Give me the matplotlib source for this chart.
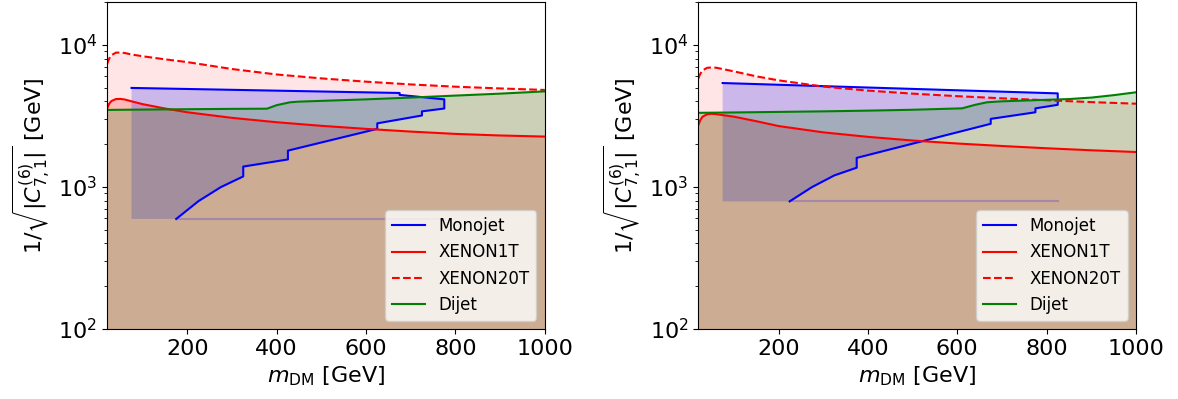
import numpy as np
import matplotlib
matplotlib.use("Agg")
import matplotlib.pyplot as plt

# dark matter mass grid for the direct detection curves [GeV]
m_dd = [20, 25, 30, 40, 50, 60, 75, 100, 150, 200, 300, 400, 500, 600, 700, 800, 900, 1000]

# left panel
xe1t_L = [3540, 3850, 4020, 4150, 4160, 4120, 4000, 3820, 3560, 3350, 3060, 2850, 2690, 2560, 2450, 2360, 2300, 2260]
xe20t_L = [7300, 8000, 8450, 8800, 8820, 8750, 8550, 8300, 7900, 7550, 6750, 6180, 5800, 5500, 5260, 5070, 4930, 4810]
dijet_m_L = [20, 100, 200, 300, 378, 400, 430, 450, 500, 600, 700, 800, 900, 1000]
dijet_L = [3480, 3500, 3520, 3540, 3550, 3760, 3940, 3980, 4030, 4130, 4250, 4390, 4530, 4700]
mono_up_m_L = [75, 675, 675, 775]
mono_up_L = [4970, 4580, 4440, 4130]
mono_lo_m_L = [775, 725, 725, 625, 625, 425, 425, 325, 325, 275, 225, 175]
mono_lo_L = [3560, 3400, 3180, 2800, 2560, 1800, 1560, 1390, 1185, 997, 795, 595]

# right panel
xe1t_R = [2700, 2950, 3120, 3240, 3270, 3250, 3200, 3120, 2900, 2680, 2420, 2250, 2120, 2020, 1940, 1870, 1810, 1760]
xe20t_R = [5750, 6250, 6600, 6880, 6930, 6900, 6750, 6500, 6000, 5620, 5080, 4760, 4530, 4350, 4200, 4070, 3950, 3850]
dijet_m_R = [20, 100, 200, 300, 400, 500, 611, 640, 667, 700, 750, 800, 850, 900, 950, 1000]
dijet_R = [3320, 3340, 3370, 3400, 3440, 3490, 3570, 3780, 3940, 4000, 4050, 4100, 4150, 4250, 4420, 4630]
mono_up_m_R = [75, 825]
mono_up_R = [5380, 4550]
mono_lo_m_R = [825, 775, 775, 675, 675, 375, 375, 325, 275, 225]
mono_lo_R = [3780, 3570, 3350, 3010, 2780, 1600, 1365, 1205, 997, 791]

y_floor = 1e2
y_top = 2e4

panels = [
    (xe1t_L, xe20t_L, dijet_m_L, dijet_L, mono_up_m_L, mono_up_L, mono_lo_m_L, mono_lo_L),
    (xe1t_R, xe20t_R, dijet_m_R, dijet_R, mono_up_m_R, mono_up_R, mono_lo_m_R, mono_lo_R),
]

fig, axes = plt.subplots(1, 2, figsize=(11.78, 3.99), dpi=100)
fig.subplots_adjust(left=0.0908, right=0.9643, bottom=0.1754, top=0.995, wspace=0.35)

for ax, (x1, x20, djm, dj, mum, mu, mlm, ml) in zip(axes, panels):
    # shaded exclusion regions
    ax.fill_between(m_dd, y_floor, x20, color='r', alpha=0.1, lw=0)
    ax.fill_between(m_dd, y_floor, x1, color='r', alpha=0.2, lw=0)
    bottom = min(ml)
    poly_x = list(mum) + list(mlm) + [min(mlm), min(mum)]
    poly_y = list(mu) + list(ml) + [bottom, bottom]
    ax.fill(poly_x, poly_y, color='b', alpha=0.2, lw=0)
    ax.plot([min(mlm), max(mlm)], [bottom, bottom], color='b', alpha=0.2, lw=1.5)
    ax.fill_between(djm, y_floor, dj, color='g', alpha=0.2, lw=0)

    # curves
    ax.plot(list(mum) + list(mlm), list(mu) + list(ml), 'b', label='Monojet')
    ax.plot(m_dd, x1, 'r', label='XENON1T')
    ax.plot(m_dd, x20, 'r--', label='XENON20T')
    ax.plot(djm, dj, 'g', label='Dijet')

    ax.set_yscale('log')
    ax.set_xlim(20, 1000)
    ax.set_ylim(y_floor, y_top)
    ax.set_xticks([200, 400, 600, 800, 1000])
    ax.tick_params(labelsize=16)
    ax.set_xlabel(r'$m_{\mathrm{DM}}$ [GeV]', fontsize=16)
    ax.set_ylabel(r'$1/\sqrt{|C^{(6)}_{7,1}|}$ [GeV]', fontsize=16)
    ax.legend(loc='lower right', fontsize=12)

plt.savefig('out.png', dpi=100)
